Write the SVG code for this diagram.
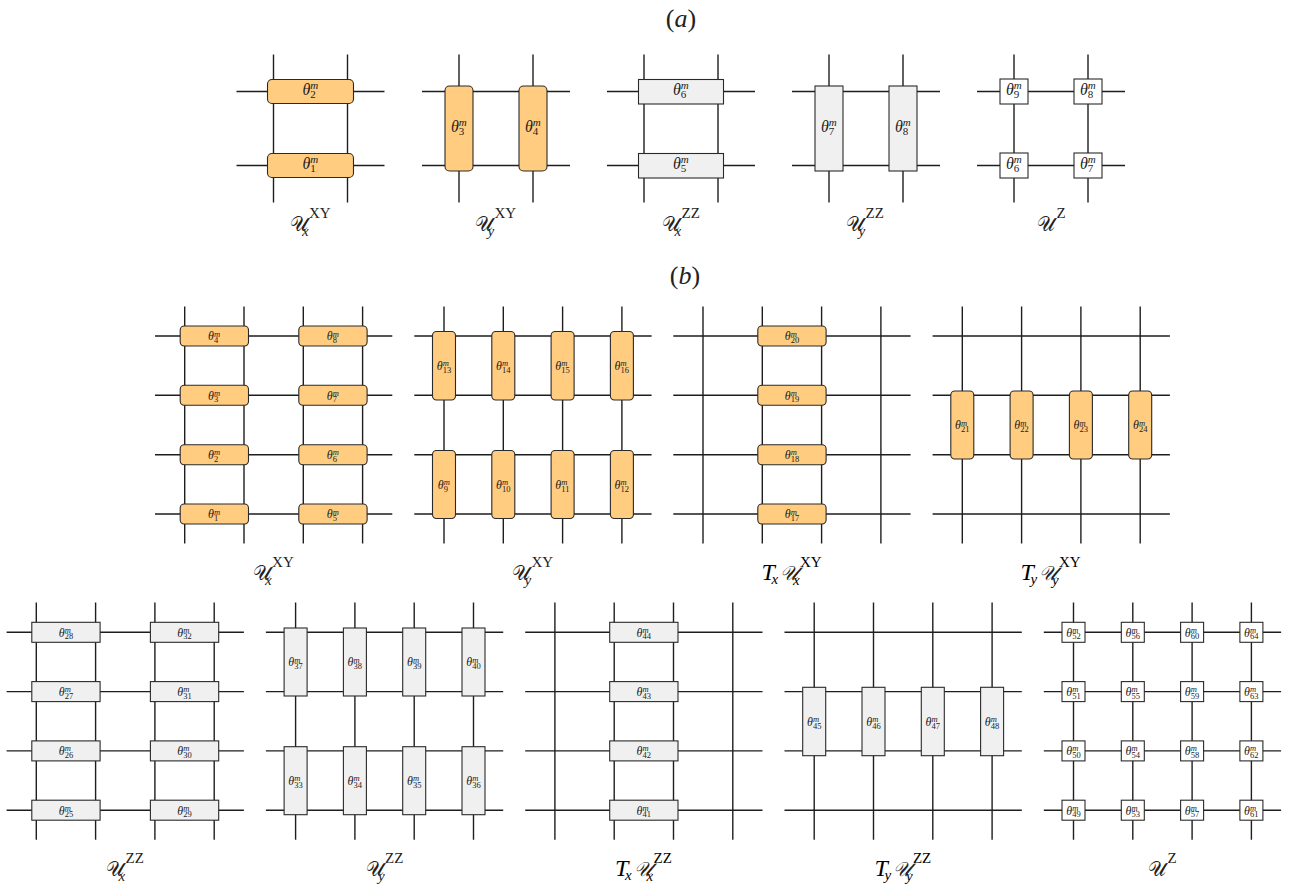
<svg xmlns="http://www.w3.org/2000/svg" width="1293" height="888" viewBox="0 0 1293 888">
<style>
.grid{fill:none;stroke:#1e1e1e;stroke-width:1.4}
.o{fill:#ffcc80;stroke:#2a2a2a;stroke-width:1.1}
.z{fill:#f0f0f0;stroke:#2a2a2a;stroke-width:1.1}
.w{fill:#ffffff;stroke:#2a2a2a;stroke-width:1.1}
.ta{font-family:"Liberation Serif",serif;font-style:italic;font-size:16px;fill:#222}
.tb{font-family:"Liberation Serif",serif;font-style:italic;font-size:12px;fill:#222}
.sa{font-size:11px}
.sb{font-size:8.5px}
.d{font-style:normal}
.U{font-family:"DejaVu Serif","DejaVu Sans","Noto Sans",serif;font-size:20px;fill:#222}
.T{font-family:"Liberation Serif",serif;font-style:italic;font-size:24px}
.sp{font-family:"Liberation Serif",serif;font-style:normal;font-size:15px}
.si{font-family:"Liberation Serif",serif;font-style:italic;font-size:15px}
.ttl{font-family:"Liberation Serif",serif;font-size:26px;fill:#222}
</style>
<text class="ttl" x="681" y="27" text-anchor="middle">(<tspan font-style="italic">a</tspan>)</text>
<text class="ttl" x="685" y="284" text-anchor="middle">(<tspan font-style="italic">b</tspan>)</text>

<g id="connectors">
<path class="grid" d="M273.5 54.5V202.5M347.5 54.5V202.5M236.5 91.5H384.5M236.5 165.5H384.5"/>
<path class="grid" d="M459 54.5V202.5M533 54.5V202.5M422 91.5H570M422 165.5H570"/>
<path class="grid" d="M644 54.5V202.5M718 54.5V202.5M607 91.5H755M607 165.5H755"/>
<path class="grid" d="M829 54.5V202.5M903 54.5V202.5M792 91.5H940M792 165.5H940"/>
<path class="grid" d="M1014 54.5V202.5M1088 54.5V202.5M977 91.5H1125M977 165.5H1125"/>
<path class="grid" d="M184.7 306.5V543.5M244 306.5V543.5M303.3 306.5V543.5M362.6 306.5V543.5M155 336H392.3M155 395.3H392.3M155 454.7H392.3M155 514H392.3"/>
<path class="grid" d="M444 306.5V543.5M503.3 306.5V543.5M562.6 306.5V543.5M621.9 306.5V543.5M414.3 336H651.6M414.3 395.3H651.6M414.3 454.7H651.6M414.3 514H651.6"/>
<path class="grid" d="M703 306.5V543.5M762.3 306.5V543.5M821.6 306.5V543.5M880.9 306.5V543.5M673.3 336H910.6M673.3 395.3H910.6M673.3 454.7H910.6M673.3 514H910.6"/>
<path class="grid" d="M962.3 306.5V543.5M1021.6 306.5V543.5M1080.9 306.5V543.5M1140.2 306.5V543.5M932.6 336H1169.9M932.6 395.3H1169.9M932.6 454.7H1169.9M932.6 514H1169.9"/>
<path class="grid" d="M36.3 602.6V839.8M95.6 602.6V839.8M154.9 602.6V839.8M214.2 602.6V839.8M6.6 632.3H243.9M6.6 691.6H243.9M6.6 750.9H243.9M6.6 810.2H243.9"/>
<path class="grid" d="M295.6 602.6V839.8M354.9 602.6V839.8M414.2 602.6V839.8M473.5 602.6V839.8M265.9 632.3H503.2M265.9 691.6H503.2M265.9 750.9H503.2M265.9 810.2H503.2"/>
<path class="grid" d="M554.9 602.6V839.8M614.2 602.6V839.8M673.5 602.6V839.8M732.8 602.6V839.8M525.2 632.3H762.5M525.2 691.6H762.5M525.2 750.9H762.5M525.2 810.2H762.5"/>
<path class="grid" d="M814.2 602.6V839.8M873.5 602.6V839.8M932.8 602.6V839.8M992.1 602.6V839.8M784.5 632.3H1021.8M784.5 691.6H1021.8M784.5 750.9H1021.8M784.5 810.2H1021.8"/>
<path class="grid" d="M1073.5 602.6V839.8M1132.8 602.6V839.8M1192.1 602.6V839.8M1251.4 602.6V839.8M1043.8 632.3H1281.1M1043.8 691.6H1281.1M1043.8 750.9H1281.1M1043.8 810.2H1281.1"/>
</g>

<!-- (a) panel 1 -->
<g id="a1-t2"><rect class="o" x="267.5" y="79.5" width="86" height="24" rx="4.5"/><text class="ta" x="302.5" y="94.7">θ<tspan class="sa" x="310.2" y="89">m</tspan><tspan class="sa d" x="310.2" y="98">2</tspan></text></g>
<g id="a1-t1"><rect class="o" x="267.5" y="153.5" width="86" height="24" rx="4.5"/><text class="ta" x="302.5" y="168.7">θ<tspan class="sa" x="310.2" y="163">m</tspan><tspan class="sa d" x="310.2" y="172">1</tspan></text></g>
<g id="a1-label"><text class="U" x="289.5" y="231"><tspan textLength="18" lengthAdjust="spacingAndGlyphs">𝒰</tspan><tspan class="sp" x="309" y="218">XY</tspan><tspan class="si" x="302" y="235.5">x</tspan></text></g>

<!-- (a) panel 2 -->
<g id="a2-t3"><rect class="o" x="445" y="86" width="28" height="85" rx="4.5"/><text class="ta" x="451" y="131.7">θ<tspan class="sa" x="458.7" y="126">m</tspan><tspan class="sa d" x="458.7" y="135">3</tspan></text></g>
<g id="a2-t4"><rect class="o" x="519" y="86" width="28" height="85" rx="4.5"/><text class="ta" x="525" y="131.7">θ<tspan class="sa" x="532.7" y="126">m</tspan><tspan class="sa d" x="532.7" y="135">4</tspan></text></g>
<g id="a2-label"><text class="U" x="475" y="231"><tspan textLength="18" lengthAdjust="spacingAndGlyphs">𝒰</tspan><tspan class="sp" x="494.5" y="218">XY</tspan><tspan class="si" x="487.5" y="235.5">y</tspan></text></g>

<!-- (a) panel 3 -->
<g id="a3-t6"><rect class="z" x="638.5" y="79.5" width="85" height="24.5"/><text class="ta" x="673" y="94.7">θ<tspan class="sa" x="680.7" y="89">m</tspan><tspan class="sa d" x="680.7" y="98">6</tspan></text></g>
<g id="a3-t5"><rect class="z" x="638.5" y="153.5" width="85" height="24.5"/><text class="ta" x="673" y="168.7">θ<tspan class="sa" x="680.7" y="163">m</tspan><tspan class="sa d" x="680.7" y="172">5</tspan></text></g>
<g id="a3-label"><text class="U" x="662" y="231"><tspan textLength="18" lengthAdjust="spacingAndGlyphs">𝒰</tspan><tspan class="sp" x="681.5" y="218">ZZ</tspan><tspan class="si" x="674.5" y="235.5">x</tspan></text></g>

<!-- (a) panel 4 -->
<g id="a4-t7"><rect class="z" x="815" y="86" width="28" height="85"/><text class="ta" x="821" y="131.7">θ<tspan class="sa" x="828.7" y="126">m</tspan><tspan class="sa d" x="828.7" y="135">7</tspan></text></g>
<g id="a4-t8"><rect class="z" x="889" y="86" width="28" height="85"/><text class="ta" x="895" y="131.7">θ<tspan class="sa" x="902.7" y="126">m</tspan><tspan class="sa d" x="902.7" y="135">8</tspan></text></g>
<g id="a4-label"><text class="U" x="846" y="231"><tspan textLength="18" lengthAdjust="spacingAndGlyphs">𝒰</tspan><tspan class="sp" x="865.5" y="218">ZZ</tspan><tspan class="si" x="858.5" y="235.5">y</tspan></text></g>

<!-- (a) panel 5 -->
<g id="a5-t9"><rect class="w" x="1000" y="79" width="28" height="25"/><text class="ta" x="1006" y="94.7">θ<tspan class="sa" x="1013.7" y="89">m</tspan><tspan class="sa d" x="1013.7" y="98">9</tspan></text></g>
<g id="a5-t8"><rect class="w" x="1074" y="79" width="28" height="25"/><text class="ta" x="1080" y="94.7">θ<tspan class="sa" x="1087.7" y="89">m</tspan><tspan class="sa d" x="1087.7" y="98">8</tspan></text></g>
<g id="a5-t6"><rect class="w" x="1000" y="153" width="28" height="25"/><text class="ta" x="1006" y="168.7">θ<tspan class="sa" x="1013.7" y="163">m</tspan><tspan class="sa d" x="1013.7" y="172">6</tspan></text></g>
<g id="a5-t7"><rect class="w" x="1074" y="153" width="28" height="25"/><text class="ta" x="1080" y="168.7">θ<tspan class="sa" x="1087.7" y="163">m</tspan><tspan class="sa d" x="1087.7" y="172">7</tspan></text></g>
<g id="a5-label"><text class="U" x="1037" y="231"><tspan textLength="18" lengthAdjust="spacingAndGlyphs">𝒰</tspan><tspan class="sp" x="1056.5" y="218">Z</tspan></text></g>

<!-- (b) b1 -->
<g id="b1-t4"><rect class="o" x="180.2" y="326" width="68.3" height="20" rx="4"/><text class="tb" x="208.1" y="340.3">θ<tspan class="sb" x="214.1" y="336.5">m</tspan><tspan class="sb d" x="214.1" y="343">4</tspan></text></g>
<g id="b1-t3"><rect class="o" x="180.2" y="385.3" width="68.3" height="20" rx="4"/><text class="tb" x="208.1" y="399.6">θ<tspan class="sb" x="214.1" y="395.8">m</tspan><tspan class="sb d" x="214.1" y="402.3">3</tspan></text></g>
<g id="b1-t2"><rect class="o" x="180.2" y="444.7" width="68.3" height="20" rx="4"/><text class="tb" x="208.1" y="459">θ<tspan class="sb" x="214.1" y="455.2">m</tspan><tspan class="sb d" x="214.1" y="461.7">2</tspan></text></g>
<g id="b1-t1"><rect class="o" x="180.2" y="504" width="68.3" height="20" rx="4"/><text class="tb" x="208.1" y="518.3">θ<tspan class="sb" x="214.1" y="514.5">m</tspan><tspan class="sb d" x="214.1" y="521">1</tspan></text></g>
<g id="b1-t8"><rect class="o" x="298.8" y="326" width="68.3" height="20" rx="4"/><text class="tb" x="326.7" y="340.3">θ<tspan class="sb" x="332.7" y="336.5">m</tspan><tspan class="sb d" x="332.7" y="343">8</tspan></text></g>
<g id="b1-t7"><rect class="o" x="298.8" y="385.3" width="68.3" height="20" rx="4"/><text class="tb" x="326.7" y="399.6">θ<tspan class="sb" x="332.7" y="395.8">m</tspan><tspan class="sb d" x="332.7" y="402.3">7</tspan></text></g>
<g id="b1-t6"><rect class="o" x="298.8" y="444.7" width="68.3" height="20" rx="4"/><text class="tb" x="326.7" y="459">θ<tspan class="sb" x="332.7" y="455.2">m</tspan><tspan class="sb d" x="332.7" y="461.7">6</tspan></text></g>
<g id="b1-t5"><rect class="o" x="298.8" y="504" width="68.3" height="20" rx="4"/><text class="tb" x="326.7" y="518.3">θ<tspan class="sb" x="332.7" y="514.5">m</tspan><tspan class="sb d" x="332.7" y="521">5</tspan></text></g>
<g id="b1-label"><text class="U" x="252.6" y="580"><tspan textLength="18" lengthAdjust="spacingAndGlyphs">𝒰</tspan><tspan class="sp" x="272.1" y="567">XY</tspan><tspan class="si" x="265.1" y="584.5">x</tspan></text></g>

<!-- (b) b2 -->
<g id="b2-t13"><rect class="o" x="432.5" y="331.5" width="23" height="68.5" rx="4"/><text class="tb" x="436.7" y="370">θ<tspan class="sb" x="442.7" y="366.2">m</tspan><tspan class="sb d" x="442.7" y="372.7">13</tspan></text></g>
<g id="b2-t14"><rect class="o" x="491.8" y="331.5" width="23" height="68.5" rx="4"/><text class="tb" x="496" y="370">θ<tspan class="sb" x="502" y="366.2">m</tspan><tspan class="sb d" x="502" y="372.7">14</tspan></text></g>
<g id="b2-t15"><rect class="o" x="551.1" y="331.5" width="23" height="68.5" rx="4"/><text class="tb" x="555.3" y="370">θ<tspan class="sb" x="561.3" y="366.2">m</tspan><tspan class="sb d" x="561.3" y="372.7">15</tspan></text></g>
<g id="b2-t16"><rect class="o" x="610.4" y="331.5" width="23" height="68.5" rx="4"/><text class="tb" x="614.6" y="370">θ<tspan class="sb" x="620.6" y="366.2">m</tspan><tspan class="sb d" x="620.6" y="372.7">16</tspan></text></g>
<g id="b2-t9"><rect class="o" x="432.5" y="450.5" width="23" height="68" rx="4"/><text class="tb" x="437.7" y="488.8">θ<tspan class="sb" x="443.7" y="485">m</tspan><tspan class="sb d" x="443.7" y="491.5">9</tspan></text></g>
<g id="b2-t10"><rect class="o" x="491.8" y="450.5" width="23" height="68" rx="4"/><text class="tb" x="496" y="488.8">θ<tspan class="sb" x="502" y="485">m</tspan><tspan class="sb d" x="502" y="491.5">10</tspan></text></g>
<g id="b2-t11"><rect class="o" x="551.1" y="450.5" width="23" height="68" rx="4"/><text class="tb" x="555.3" y="488.8">θ<tspan class="sb" x="561.3" y="485">m</tspan><tspan class="sb d" x="561.3" y="491.5">11</tspan></text></g>
<g id="b2-t12"><rect class="o" x="610.4" y="450.5" width="23" height="68" rx="4"/><text class="tb" x="614.6" y="488.8">θ<tspan class="sb" x="620.6" y="485">m</tspan><tspan class="sb d" x="620.6" y="491.5">12</tspan></text></g>
<g id="b2-label"><text class="U" x="512" y="580"><tspan textLength="18" lengthAdjust="spacingAndGlyphs">𝒰</tspan><tspan class="sp" x="531.5" y="567">XY</tspan><tspan class="si" x="524.5" y="584.5">y</tspan></text></g>

<!-- (b) b3 -->
<g id="b3-t20"><rect class="o" x="757.8" y="326" width="68.3" height="20" rx="4"/><text class="tb" x="784.7" y="340.3">θ<tspan class="sb" x="790.7" y="336.5">m</tspan><tspan class="sb d" x="790.7" y="343">20</tspan></text></g>
<g id="b3-t19"><rect class="o" x="757.8" y="385.3" width="68.3" height="20" rx="4"/><text class="tb" x="784.7" y="399.6">θ<tspan class="sb" x="790.7" y="395.8">m</tspan><tspan class="sb d" x="790.7" y="402.3">19</tspan></text></g>
<g id="b3-t18"><rect class="o" x="757.8" y="444.7" width="68.3" height="20" rx="4"/><text class="tb" x="784.7" y="459">θ<tspan class="sb" x="790.7" y="455.2">m</tspan><tspan class="sb d" x="790.7" y="461.7">18</tspan></text></g>
<g id="b3-t17"><rect class="o" x="757.8" y="504" width="68.3" height="20" rx="4"/><text class="tb" x="784.7" y="518.3">θ<tspan class="sb" x="790.7" y="514.5">m</tspan><tspan class="sb d" x="790.7" y="521">17</tspan></text></g>
<g id="b3-label"><text class="T" x="761.4" y="580">T<tspan class="si" x="771.4" y="584">x</tspan><tspan class="U" x="780.4" y="580" textLength="18" lengthAdjust="spacingAndGlyphs">𝒰</tspan><tspan class="sp" x="799.9" y="567">XY</tspan><tspan class="si" x="792.9" y="584.5">x</tspan></text></g>

<!-- (b) b4 -->
<g id="b4-t21"><rect class="o" x="950.8" y="391" width="23" height="68" rx="4"/><text class="tb" x="955" y="429.3">θ<tspan class="sb" x="961" y="425.5">m</tspan><tspan class="sb d" x="961" y="432">21</tspan></text></g>
<g id="b4-t22"><rect class="o" x="1010.1" y="391" width="23" height="68" rx="4"/><text class="tb" x="1014.3" y="429.3">θ<tspan class="sb" x="1020.3" y="425.5">m</tspan><tspan class="sb d" x="1020.3" y="432">22</tspan></text></g>
<g id="b4-t23"><rect class="o" x="1069.4" y="391" width="23" height="68" rx="4"/><text class="tb" x="1073.6" y="429.3">θ<tspan class="sb" x="1079.6" y="425.5">m</tspan><tspan class="sb d" x="1079.6" y="432">23</tspan></text></g>
<g id="b4-t24"><rect class="o" x="1128.7" y="391" width="23" height="68" rx="4"/><text class="tb" x="1132.9" y="429.3">θ<tspan class="sb" x="1138.9" y="425.5">m</tspan><tspan class="sb d" x="1138.9" y="432">24</tspan></text></g>
<g id="b4-label"><text class="T" x="1020.4" y="580">T<tspan class="si" x="1030.4" y="584">y</tspan><tspan class="U" x="1039.4" y="580" textLength="18" lengthAdjust="spacingAndGlyphs">𝒰</tspan><tspan class="sp" x="1058.9" y="567">XY</tspan><tspan class="si" x="1051.9" y="584.5">y</tspan></text></g>

<!-- (b) c1 -->
<g id="c1-t28"><rect class="z" x="31.8" y="622.3" width="68.3" height="20"/><text class="tb" x="58.65" y="636.6">θ<tspan class="sb" x="64.65" y="632.8">m</tspan><tspan class="sb d" x="64.65" y="639.3">28</tspan></text></g>
<g id="c1-t27"><rect class="z" x="31.8" y="681.6" width="68.3" height="20"/><text class="tb" x="58.65" y="695.9">θ<tspan class="sb" x="64.65" y="692.1">m</tspan><tspan class="sb d" x="64.65" y="698.6">27</tspan></text></g>
<g id="c1-t26"><rect class="z" x="31.8" y="740.9" width="68.3" height="20"/><text class="tb" x="58.65" y="755.2">θ<tspan class="sb" x="64.65" y="751.4">m</tspan><tspan class="sb d" x="64.65" y="757.9">26</tspan></text></g>
<g id="c1-t25"><rect class="z" x="31.8" y="800.2" width="68.3" height="20"/><text class="tb" x="58.65" y="814.5">θ<tspan class="sb" x="64.65" y="810.7">m</tspan><tspan class="sb d" x="64.65" y="817.2">25</tspan></text></g>
<g id="c1-t32"><rect class="z" x="150.4" y="622.3" width="68.3" height="20"/><text class="tb" x="177.25" y="636.6">θ<tspan class="sb" x="183.25" y="632.8">m</tspan><tspan class="sb d" x="183.25" y="639.3">32</tspan></text></g>
<g id="c1-t31"><rect class="z" x="150.4" y="681.6" width="68.3" height="20"/><text class="tb" x="177.25" y="695.9">θ<tspan class="sb" x="183.25" y="692.1">m</tspan><tspan class="sb d" x="183.25" y="698.6">31</tspan></text></g>
<g id="c1-t30"><rect class="z" x="150.4" y="740.9" width="68.3" height="20"/><text class="tb" x="177.25" y="755.2">θ<tspan class="sb" x="183.25" y="751.4">m</tspan><tspan class="sb d" x="183.25" y="757.9">30</tspan></text></g>
<g id="c1-t29"><rect class="z" x="150.4" y="800.2" width="68.3" height="20"/><text class="tb" x="177.25" y="814.5">θ<tspan class="sb" x="183.25" y="810.7">m</tspan><tspan class="sb d" x="183.25" y="817.2">29</tspan></text></g>
<g id="c1-label"><text class="U" x="106" y="876"><tspan textLength="18" lengthAdjust="spacingAndGlyphs">𝒰</tspan><tspan class="sp" x="125.5" y="863">ZZ</tspan><tspan class="si" x="118.5" y="880.5">x</tspan></text></g>

<!-- (b) c2 -->
<g id="c2-t37"><rect class="z" x="284.1" y="628" width="23" height="68"/><text class="tb" x="288.3" y="666.3">θ<tspan class="sb" x="294.3" y="662.5">m</tspan><tspan class="sb d" x="294.3" y="669">37</tspan></text></g>
<g id="c2-t38"><rect class="z" x="343.4" y="628" width="23" height="68"/><text class="tb" x="347.6" y="666.3">θ<tspan class="sb" x="353.6" y="662.5">m</tspan><tspan class="sb d" x="353.6" y="669">38</tspan></text></g>
<g id="c2-t39"><rect class="z" x="402.7" y="628" width="23" height="68"/><text class="tb" x="406.9" y="666.3">θ<tspan class="sb" x="412.9" y="662.5">m</tspan><tspan class="sb d" x="412.9" y="669">39</tspan></text></g>
<g id="c2-t40"><rect class="z" x="462" y="628" width="23" height="68"/><text class="tb" x="466.2" y="666.3">θ<tspan class="sb" x="472.2" y="662.5">m</tspan><tspan class="sb d" x="472.2" y="669">40</tspan></text></g>
<g id="c2-t33"><rect class="z" x="284.1" y="746.7" width="23" height="68"/><text class="tb" x="288.3" y="785">θ<tspan class="sb" x="294.3" y="781.2">m</tspan><tspan class="sb d" x="294.3" y="787.7">33</tspan></text></g>
<g id="c2-t34"><rect class="z" x="343.4" y="746.7" width="23" height="68"/><text class="tb" x="347.6" y="785">θ<tspan class="sb" x="353.6" y="781.2">m</tspan><tspan class="sb d" x="353.6" y="787.7">34</tspan></text></g>
<g id="c2-t35"><rect class="z" x="402.7" y="746.7" width="23" height="68"/><text class="tb" x="406.9" y="785">θ<tspan class="sb" x="412.9" y="781.2">m</tspan><tspan class="sb d" x="412.9" y="787.7">35</tspan></text></g>
<g id="c2-t36"><rect class="z" x="462" y="746.7" width="23" height="68"/><text class="tb" x="466.2" y="785">θ<tspan class="sb" x="472.2" y="781.2">m</tspan><tspan class="sb d" x="472.2" y="787.7">36</tspan></text></g>
<g id="c2-label"><text class="U" x="365.5" y="876"><tspan textLength="18" lengthAdjust="spacingAndGlyphs">𝒰</tspan><tspan class="sp" x="385" y="863">ZZ</tspan><tspan class="si" x="378" y="880.5">y</tspan></text></g>

<!-- (b) c3 -->
<g id="c3-t44"><rect class="z" x="609.7" y="622.3" width="68.3" height="20"/><text class="tb" x="636.55" y="636.6">θ<tspan class="sb" x="642.55" y="632.8">m</tspan><tspan class="sb d" x="642.55" y="639.3">44</tspan></text></g>
<g id="c3-t43"><rect class="z" x="609.7" y="681.6" width="68.3" height="20"/><text class="tb" x="636.55" y="695.9">θ<tspan class="sb" x="642.55" y="692.1">m</tspan><tspan class="sb d" x="642.55" y="698.6">43</tspan></text></g>
<g id="c3-t42"><rect class="z" x="609.7" y="740.9" width="68.3" height="20"/><text class="tb" x="636.55" y="755.2">θ<tspan class="sb" x="642.55" y="751.4">m</tspan><tspan class="sb d" x="642.55" y="757.9">42</tspan></text></g>
<g id="c3-t41"><rect class="z" x="609.7" y="800.2" width="68.3" height="20"/><text class="tb" x="636.55" y="814.5">θ<tspan class="sb" x="642.55" y="810.7">m</tspan><tspan class="sb d" x="642.55" y="817.2">41</tspan></text></g>
<g id="c3-label"><text class="T" x="615" y="876">T<tspan class="si" x="625" y="880">x</tspan><tspan class="U" x="634" y="876" textLength="18" lengthAdjust="spacingAndGlyphs">𝒰</tspan><tspan class="sp" x="653.5" y="863">ZZ</tspan><tspan class="si" x="646.5" y="880.5">x</tspan></text></g>

<!-- (b) c4 -->
<g id="c4-t45"><rect class="z" x="802.7" y="687.3" width="23" height="68.4"/><text class="tb" x="806.9" y="725.8">θ<tspan class="sb" x="812.9" y="722">m</tspan><tspan class="sb d" x="812.9" y="728.5">45</tspan></text></g>
<g id="c4-t46"><rect class="z" x="862" y="687.3" width="23" height="68.4"/><text class="tb" x="866.2" y="725.8">θ<tspan class="sb" x="872.2" y="722">m</tspan><tspan class="sb d" x="872.2" y="728.5">46</tspan></text></g>
<g id="c4-t47"><rect class="z" x="921.3" y="687.3" width="23" height="68.4"/><text class="tb" x="925.5" y="725.8">θ<tspan class="sb" x="931.5" y="722">m</tspan><tspan class="sb d" x="931.5" y="728.5">47</tspan></text></g>
<g id="c4-t48"><rect class="z" x="980.6" y="687.3" width="23" height="68.4"/><text class="tb" x="984.8" y="725.8">θ<tspan class="sb" x="990.8" y="722">m</tspan><tspan class="sb d" x="990.8" y="728.5">48</tspan></text></g>
<g id="c4-label"><text class="T" x="874.4" y="876">T<tspan class="si" x="884.4" y="880">y</tspan><tspan class="U" x="893.4" y="876" textLength="18" lengthAdjust="spacingAndGlyphs">𝒰</tspan><tspan class="sp" x="912.9" y="863">ZZ</tspan><tspan class="si" x="905.9" y="880.5">y</tspan></text></g>

<!-- (b) c5 -->
<g id="c5-t52"><rect class="w" x="1062" y="622.3" width="23" height="20"/><text class="tb" x="1066.2" y="636.6">θ<tspan class="sb" x="1072.2" y="632.8">m</tspan><tspan class="sb d" x="1072.2" y="639.3">52</tspan></text></g>
<g id="c5-t51"><rect class="w" x="1062" y="681.6" width="23" height="20"/><text class="tb" x="1066.2" y="695.9">θ<tspan class="sb" x="1072.2" y="692.1">m</tspan><tspan class="sb d" x="1072.2" y="698.6">51</tspan></text></g>
<g id="c5-t50"><rect class="w" x="1062" y="740.9" width="23" height="20"/><text class="tb" x="1066.2" y="755.2">θ<tspan class="sb" x="1072.2" y="751.4">m</tspan><tspan class="sb d" x="1072.2" y="757.9">50</tspan></text></g>
<g id="c5-t49"><rect class="w" x="1062" y="800.2" width="23" height="20"/><text class="tb" x="1066.2" y="814.5">θ<tspan class="sb" x="1072.2" y="810.7">m</tspan><tspan class="sb d" x="1072.2" y="817.2">49</tspan></text></g>
<g id="c5-t56"><rect class="w" x="1121.3" y="622.3" width="23" height="20"/><text class="tb" x="1125.5" y="636.6">θ<tspan class="sb" x="1131.5" y="632.8">m</tspan><tspan class="sb d" x="1131.5" y="639.3">56</tspan></text></g>
<g id="c5-t55"><rect class="w" x="1121.3" y="681.6" width="23" height="20"/><text class="tb" x="1125.5" y="695.9">θ<tspan class="sb" x="1131.5" y="692.1">m</tspan><tspan class="sb d" x="1131.5" y="698.6">55</tspan></text></g>
<g id="c5-t54"><rect class="w" x="1121.3" y="740.9" width="23" height="20"/><text class="tb" x="1125.5" y="755.2">θ<tspan class="sb" x="1131.5" y="751.4">m</tspan><tspan class="sb d" x="1131.5" y="757.9">54</tspan></text></g>
<g id="c5-t53"><rect class="w" x="1121.3" y="800.2" width="23" height="20"/><text class="tb" x="1125.5" y="814.5">θ<tspan class="sb" x="1131.5" y="810.7">m</tspan><tspan class="sb d" x="1131.5" y="817.2">53</tspan></text></g>
<g id="c5-t60"><rect class="w" x="1180.6" y="622.3" width="23" height="20"/><text class="tb" x="1184.8" y="636.6">θ<tspan class="sb" x="1190.8" y="632.8">m</tspan><tspan class="sb d" x="1190.8" y="639.3">60</tspan></text></g>
<g id="c5-t59"><rect class="w" x="1180.6" y="681.6" width="23" height="20"/><text class="tb" x="1184.8" y="695.9">θ<tspan class="sb" x="1190.8" y="692.1">m</tspan><tspan class="sb d" x="1190.8" y="698.6">59</tspan></text></g>
<g id="c5-t58"><rect class="w" x="1180.6" y="740.9" width="23" height="20"/><text class="tb" x="1184.8" y="755.2">θ<tspan class="sb" x="1190.8" y="751.4">m</tspan><tspan class="sb d" x="1190.8" y="757.9">58</tspan></text></g>
<g id="c5-t57"><rect class="w" x="1180.6" y="800.2" width="23" height="20"/><text class="tb" x="1184.8" y="814.5">θ<tspan class="sb" x="1190.8" y="810.7">m</tspan><tspan class="sb d" x="1190.8" y="817.2">57</tspan></text></g>
<g id="c5-t64"><rect class="w" x="1239.9" y="622.3" width="23" height="20"/><text class="tb" x="1244.1" y="636.6">θ<tspan class="sb" x="1250.1" y="632.8">m</tspan><tspan class="sb d" x="1250.1" y="639.3">64</tspan></text></g>
<g id="c5-t63"><rect class="w" x="1239.9" y="681.6" width="23" height="20"/><text class="tb" x="1244.1" y="695.9">θ<tspan class="sb" x="1250.1" y="692.1">m</tspan><tspan class="sb d" x="1250.1" y="698.6">63</tspan></text></g>
<g id="c5-t62"><rect class="w" x="1239.9" y="740.9" width="23" height="20"/><text class="tb" x="1244.1" y="755.2">θ<tspan class="sb" x="1250.1" y="751.4">m</tspan><tspan class="sb d" x="1250.1" y="757.9">62</tspan></text></g>
<g id="c5-t61"><rect class="w" x="1239.9" y="800.2" width="23" height="20"/><text class="tb" x="1244.1" y="814.5">θ<tspan class="sb" x="1250.1" y="810.7">m</tspan><tspan class="sb d" x="1250.1" y="817.2">61</tspan></text></g>
<g id="c5-label"><text class="U" x="1148" y="876"><tspan textLength="18" lengthAdjust="spacingAndGlyphs">𝒰</tspan><tspan class="sp" x="1167.5" y="863">Z</tspan></text></g>
</svg>
